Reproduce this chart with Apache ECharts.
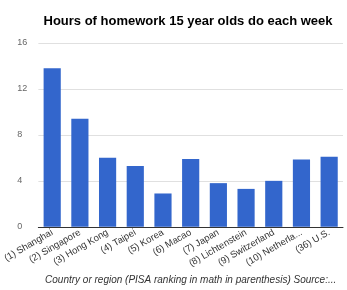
<!DOCTYPE html>
<html><head><meta charset="utf-8">
<script src="https://cdn.jsdelivr.net/npm/echarts@6/dist/echarts.min.js"></script>
<style>html,body{margin:0;padding:0;background:#fff}#c{width:347px;height:290px}</style>
</head><body><div id="c"></div>
<script>
const categories = ["(1) Shanghai","(2) Singapore","(3) Hong Kong","(4) Taipei","(5) Korea","(6) Macao","(7) Japan","(8) Lichtenstein","(9) Switzerland","(10) Netherla...","(36) U.S."];
const hours = [13.8, 9.4, 6.0, 5.3, 2.9, 5.9, 3.8, 3.3, 4.0, 5.85, 6.1];
const titleText = "Hours of homework 15 year olds do each week";
const xName = "Country or region (PISA ranking in math in parenthesis) Source:...";

const chart = echarts.init(document.getElementById('c'));
chart.setOption({
  animation: false,
  title: { text: titleText, left: 183, top: 10, textAlign: 'center',
    textStyle: { fontFamily: 'Liberation Sans, Arial', fontWeight: 'bold', fontSize: 13, color: '#000' } },
  grid: { left: 38, right: 4, top: 43, bottom: 59 },
  xAxis: {
    type: 'category', data: categories,
    name: xName, nameLocation: 'middle', nameGap: 44,
    nameTextStyle: { fontFamily: 'Liberation Sans, Arial', fontStyle: 'italic', fontSize: 10, color: '#333' },
    axisLine: { lineStyle: { color: '#333' } },
    axisTick: { show: false },
    axisLabel: { rotate: 30, interval: 0, fontFamily: 'Liberation Sans, Arial', fontSize: 9.5, color: '#333', margin: 5 }
  },
  yAxis: {
    type: 'value', min: 0, max: 16, interval: 4,
    axisLine: { show: false }, axisTick: { show: false },
    splitLine: { lineStyle: { color: '#e0e0e0' } },
    axisLabel: { fontFamily: 'Liberation Sans, Arial', fontSize: 9, color: '#666', margin: 21, align: 'left' }
  },
  series: [{ type: 'bar', data: hours, barCategoryGap: '38%', itemStyle: { color: '#3366cc' } }]
});
</script></body></html>
